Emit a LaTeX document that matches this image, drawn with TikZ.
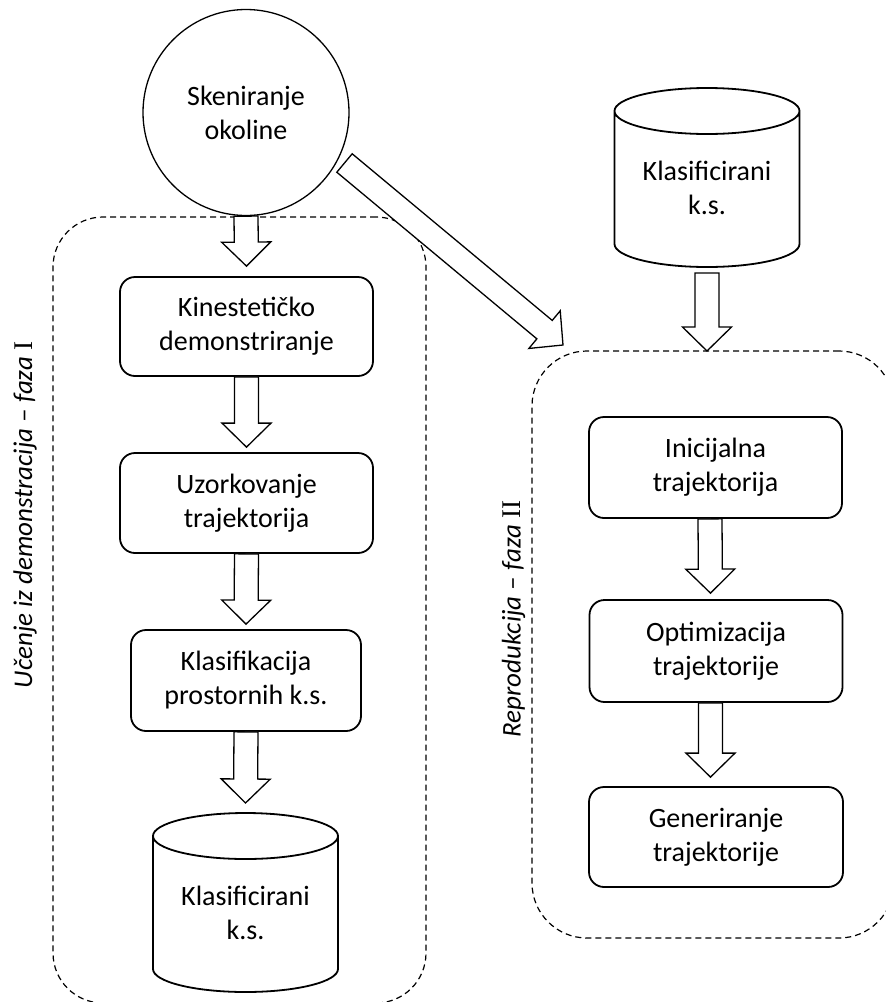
\documentclass[tikz,border=0pt]{standalone}
\usepackage{fontspec}
\setmainfont{Carlito}
\newfontfamily\romanfont{Liberation Serif}
\usetikzlibrary{calc}
\tikzset{
  every node/.style={font=\fontsize{28}{34}\selectfont},
  proc/.style={draw, line width=1.8pt, rounded corners=15pt, align=center, inner sep=0pt},
  scan/.style={draw, circle, line width=1.3pt, align=center, inner sep=0pt, minimum size=206},
  cylbox/.style={inner sep=0pt, outer sep=0pt, minimum width=185, minimum height=179},
  cylline/.style={line width=1.8pt},
  txt/.style={align=center, inner sep=0pt},
  phase/.style={draw, dash pattern=on 6pt off 4pt, line width=1.2pt, inner sep=0pt, outer sep=0pt},
  phaselabel/.style={rotate=90, inner sep=0pt, font=\fontsize{27}{32}\selectfont\itshape},
  blockarrowstyle/.style={draw=black, fill=white, line width=1.3pt, line join=miter}
}
\newcommand\blockarrow[2]{%
  \draw[blockarrowstyle] let \p1=(#1), \p2=(#2),
    \n1={atan2((\y2)-(\y1),(\x2)-(\x1))}, \n2={veclen((\x2)-(\x1),(\y2)-(\y1))} in
    ($(\p1)+(\n1+90:12)$) -- ($(\p1)+(\n1:\n2-24)+(\n1+90:12)$)
    -- ($(\p1)+(\n1:\n2-24)+(\n1+90:24.5)$) -- (\p2)
    -- ($(\p1)+(\n1:\n2-24)+(\n1-90:24.5)$) -- ($(\p1)+(\n1:\n2-24)+(\n1-90:12)$)
    -- ($(\p1)+(\n1-90:12)$) -- cycle;}
\newcommand\drawcyl[1]{%
  \draw[cylline] ([yshift=-23]#1.north west) -- ([yshift=23]#1.south west)
    arc[start angle=180, end angle=360, x radius=92.5, y radius=23]
    -- ([yshift=-23]#1.north east)
    arc[start angle=0, end angle=180, x radius=92.5, y radius=23]
    arc[start angle=180, end angle=360, x radius=92.5, y radius=23];}
\begin{document}
\begin{tikzpicture}[x=1pt, y=1pt]
\useasboundingbox (0,0) rectangle (886,-1002);
% phase boxes
\node[phase, rounded corners=50pt, minimum width=373, minimum height=786] (ph1) at (239.5,-610) {};
\node[phase, rounded corners=55pt, minimum width=362, minimum height=587] (ph2) at (713,-644.5) {};
\node[phaselabel] (lab1) at (25,-515) {Učenje iz demonstracija – faza {\upshape\romanfont I}};
\node[phaselabel] (lab2) at (513.5,-619) {Reprodukcija – faza {\upshape\romanfont II}};
% left column
\node[scan] (circ) at (246,-112.5) {Skeniranje\\okoline};
\node[proc, minimum width=253, minimum height=99] (kin) at (246.5,-326.5) {Kinestetičko\\demonstriranje};
\node[proc, minimum width=253, minimum height=100] (uzo) at (246.5,-503) {Uzorkovanje\\trajektorija};
\node[proc, minimum width=230, minimum height=101] (kla) at (246,-680.5) {Klasifikacija\\prostornih k.s.};
\node[cylbox] (cylL) at (245.5,-902.5) {};
\drawcyl{cylL}
\node[txt] (cylLt) at ([yshift=-10]cylL.center) {Klasificirani\\k.s.};
% right column
\node[cylbox] (cylR) at (707,-177.5) {};
\drawcyl{cylR}
\node[txt] (cylRt) at ([yshift=-10]cylR.center) {Klasificirani\\k.s.};
\node[proc, minimum width=253, minimum height=101] (ini) at (715.5,-467.5) {Inicijalna\\trajektorija};
\node[proc, minimum width=253, minimum height=102] (opt) at (716,-651) {Optimizacija\\trajektorije};
\node[proc, minimum width=254, minimum height=100] (gen) at (716,-837) {Generiranje\\trajektorije};
% arrows
\blockarrow{circ.south}{[yshift=10]kin.north}
\blockarrow{kin.south}{[yshift=5]uzo.north}
\blockarrow{uzo.south}{[yshift=5]kla.north}
\blockarrow{kla.south}{[yshift=10]cylL.north}
\blockarrow{[yshift=-6]cylR.south}{ph2.north -| cylR.south}
\blockarrow{[xshift=-5.5]ini.south}{[xshift=-5.5,yshift=6]opt.north}
\blockarrow{[xshift=-5.5]opt.south}{[xshift=-5.5,yshift=9]gen.north}
\coordinate (diagS) at ([shift={(98.5,-50.5)}]circ.center);
\coordinate (diagT) at (563,-345);
\blockarrow{diagS}{diagT}
\end{tikzpicture}
\end{document}
